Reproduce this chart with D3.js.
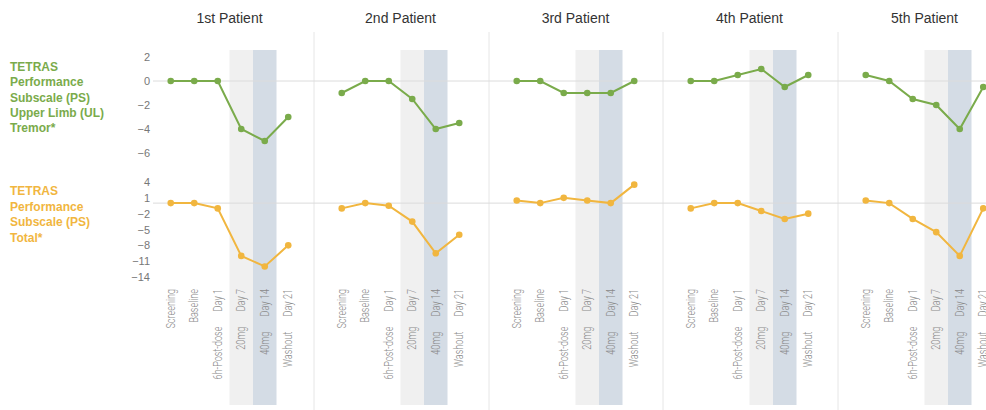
<!DOCTYPE html>
<html>
<head>
<meta charset="utf-8">
<script src="https://cdn.jsdelivr.net/npm/d3@7"></script>
<style>
  body { margin: 0; background: #fff; }
  svg { display: block; font-family: "Liberation Sans", Arial, sans-serif; }
</style>
</head>
<body>
<svg id="chart" width="986" height="410"></svg>
<script>
// visits along the x axis of every patient panel
let visits = ["Screening", "Baseline", "6h-Post-dose", "20mg", "40mg", "Washout"];
let visitDays = ["", "", "Day 1", "Day 7", "Day 14", "Day 21"];
let patients = ["1st Patient", "2nd Patient", "3rd Patient", "4th Patient", "5th Patient"];

// TETRAS PS Upper Limb tremor, change per visit
let tremorUL = [
    [0, 0, 0, -4, -5, -3],
    [-1, 0, 0, -1.5, -4, -3.5],
    [0, 0, -1, -1, -1, 0],
    [0, 0, 0.5, 1, -0.5, 0.5],
    [0.5, 0, -1.5, -2, -4, -0.5]
];
// TETRAS PS total, change per visit
let tremorTotal = [
    [0, 0, -1, -10, -12, -8],
    [-1, 0, -0.5, -3.5, -9.5, -6],
    [0.5, 0, 1, 0.5, 0, 3.5],
    [-1, 0, 0, -1.5, -3, -2],
    [0.5, 0, -3, -5.5, -10, -1]
];

let ulTicks = [2, 0, -2, -4, -6];
let totalTicks = [4, 1, -2, -5, -8, -11, -14];

let greenCol = "#7aab4b";
let orangeCol = "#f1b63f";

let svg = d3.select("#chart");
let W = 986, H = 410;

let panelLeft = [143, 314, 489, 663, 838];

let yUL = d3.scaleLinear().domain([-6, 2]).range([153, 57]);
let yTot = d3.scaleLinear().domain([-14, 4]).range([277, 182]);

function panelX(i) {
    return d3.scaleBand()
        .domain(visits)
        .range([panelLeft[i] + 16, panelLeft[i] + 16 + 141]);
}

// panel separators
svg.selectAll(".sep")
    .data(panelLeft.slice(1))
    .enter().append("line")
    .attr("x1", d => d).attr("x2", d => d)
    .attr("y1", 32).attr("y2", H)
    .attr("stroke", "#e6e6e6").attr("stroke-width", 1);

// shaded dosing bands (20mg / 40mg) per panel
patients.forEach(function(p, i) {
    let x = panelX(i);
    let g = svg.append("g").attr("class", "panel");
    g.append("rect")
        .attr("x", x(visits[3])).attr("y", 50)
        .attr("width", x.bandwidth()).attr("height", 355)
        .attr("fill", "#f0f0f0");
    g.append("rect")
        .attr("x", x(visits[4])).attr("y", 50)
        .attr("width", x.bandwidth()).attr("height", 355)
        .attr("fill", "#d4dce5");
});

// zero lines
svg.append("line")
    .attr("x1", 153).attr("x2", W)
    .attr("y1", yUL(0)).attr("y2", yUL(0))
    .attr("stroke", "#dcdcdc");
svg.append("line")
    .attr("x1", 153).attr("x2", W)
    .attr("y1", yTot(0)).attr("y2", yTot(0))
    .attr("stroke", "#dcdcdc");

// y axes
let axUL = svg.append("g")
    .attr("transform", "translate(150,0)")
    .call(d3.axisLeft(yUL).tickValues(ulTicks).tickSize(0).tickPadding(0));
let axTot = svg.append("g")
    .attr("transform", "translate(150,0)")
    .call(d3.axisLeft(yTot).tickValues(totalTicks).tickSize(0).tickPadding(0));
[axUL, axTot].forEach(function(ax) {
    ax.select(".domain").remove();
    ax.selectAll("text")
        .attr("fill", "#777")
        .attr("font-size", "11px")
        .attr("font-family", "Liberation Sans, Arial, sans-serif");
});

// left labels
let ulLabel = ["TETRAS", "Performance", "Subscale (PS)", "Upper Limb (UL)", "Tremor*"];
let totLabel = ["TETRAS", "Performance", "Subscale (PS)", "Total*"];
svg.append("text")
    .attr("x", 10).attr("y", 71)
    .attr("fill", greenCol).attr("font-size", "12px").attr("font-weight", "bold")
    .selectAll("tspan").data(ulLabel).enter().append("tspan")
    .attr("x", 10).attr("dy", (d, i) => i == 0 ? 0 : 15.3)
    .text(d => d);
svg.append("text")
    .attr("x", 10).attr("y", 195)
    .attr("fill", orangeCol).attr("font-size", "12px").attr("font-weight", "bold")
    .selectAll("tspan").data(totLabel).enter().append("tspan")
    .attr("x", 10).attr("dy", (d, i) => i == 0 ? 0 : 15.5)
    .text(d => d);

// each patient panel
patients.forEach(function(p, i) {
    let x = panelX(i);
    let cx = d => x(d) + x.bandwidth() / 2;
    let g = svg.append("g");

    g.append("text")
        .attr("x", (cx(visits[0]) + cx(visits[5])) / 2)
        .attr("y", 23)
        .attr("text-anchor", "middle")
        .attr("font-size", "14px")
        .attr("fill", "#333")
        .text(p);

    // visit labels, rotated (day part on top, gap, then visit name)
    let lab = g.selectAll(".xl")
        .data(visits)
        .enter().append("text")
        .attr("class", "xl")
        .attr("transform", d => `translate(${cx(d) + 4},289) rotate(-90) scale(0.76,1)`)
        .attr("text-anchor", "end")
        .attr("font-family", "Roboto, sans-serif")
        .attr("font-weight", 300)
        .attr("font-size", "12px")
        .attr("fill", "#8a8a8a");
    lab.append("tspan").text(d => d);
    lab.append("tspan")
        .attr("dx", (d, k) => visitDays[k] ? 20 : 0)
        .text((d, k) => visitDays[k]);

    let series = [
        {vals: tremorUL[i], y: yUL, col: greenCol},
        {vals: tremorTotal[i], y: yTot, col: orangeCol}
    ];
    series.forEach(function(s) {
        let pts = visits.map((v, k) => [cx(v), s.y(s.vals[k])]);
        g.append("path")
            .attr("d", d3.line()(pts))
            .attr("fill", "none")
            .attr("stroke", s.col)
            .attr("stroke-width", 2);
        g.selectAll(null)
            .data(pts)
            .enter().append("circle")
            .attr("cx", d => d[0]).attr("cy", d => d[1])
            .attr("r", 3.3)
            .attr("fill", s.col);
    });
});
</script>
</body>
</html>
